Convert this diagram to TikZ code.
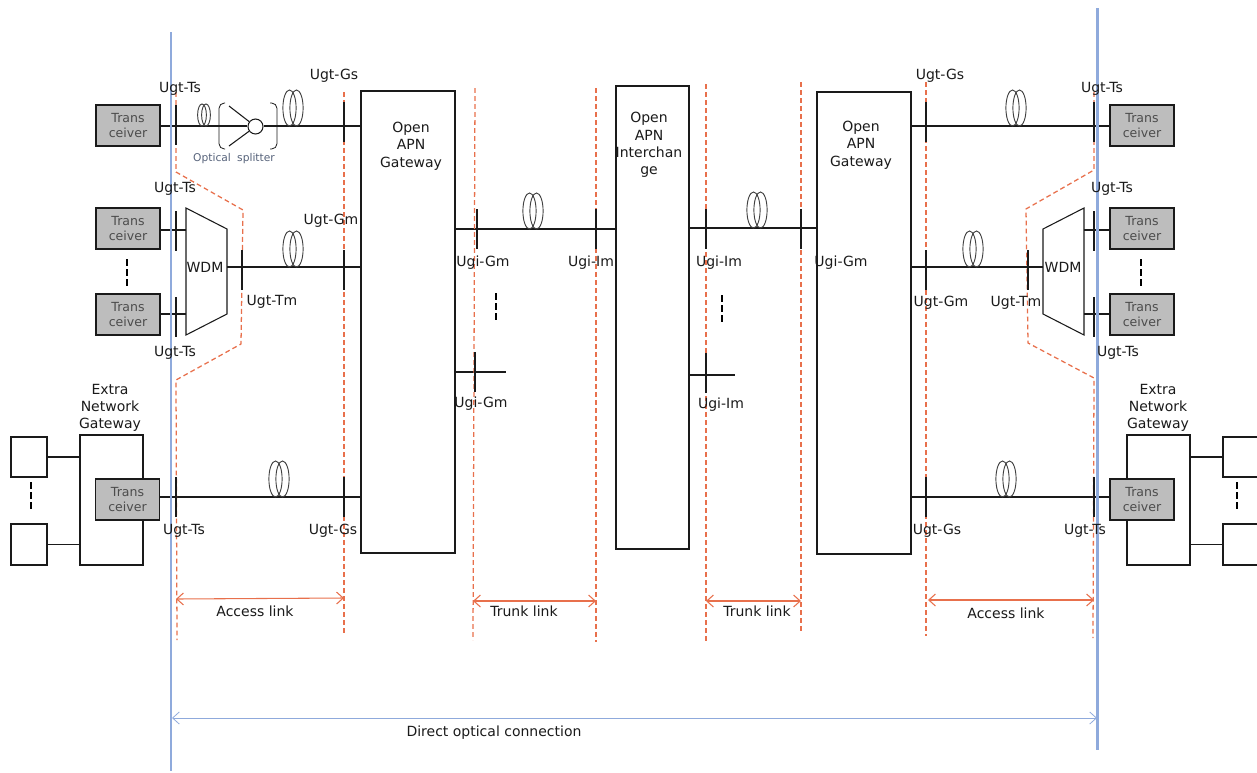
\documentclass[tikz,border=0pt]{standalone}
\usepackage{fontspec}
\usepackage{xcolor}
\usepackage{tikz}
\usetikzlibrary{arrows.meta}
\setmainfont{DejaVu Sans}
\definecolor{blackmain}{HTML}{1A1A1A}
\definecolor{bluelink}{HTML}{8FAADC}
\definecolor{orangelink}{HTML}{E8704C}
\definecolor{grayfill}{HTML}{BDBDBD}
\definecolor{graytext}{HTML}{56627A}
\tikzset{wire/.style={blackmain,line width=.8pt},
tickmark/.style={blackmain,line width=.8pt},
box/.style={draw=blackmain,line width=.8pt,inner sep=0pt},
trx/.style={box,fill=grayfill,minimum width=48pt,minimum height=30.75pt,text=black!70,align=center,font=\fontsize{9.4}{10.6}\selectfont},
tag/.style={inner sep=0pt,yshift=-.75pt,text=blackmain,font=\fontsize{10.5}{13}\selectfont,align=center},
reach/.style={orangelink,dash pattern=on 3.6pt off 2.4pt,line width=.95pt},
span/.style={{Straight Barb[length=5pt,width=9pt]}-{Straight Barb[length=5pt,width=9pt]},orangelink,line width=.8pt},
rail/.style={bluelink,line width=1.9pt},
dots/.style={black,line width=1.6pt,dash pattern=on 5pt off 2.6pt},
coil/.pic={\draw[black!75,line width=.7pt] (-3.5,-18) ellipse (6.6 and 18) (3.5,-18) ellipse (6.6 and 18);},
smallcoil/.pic={\draw[black!75,line width=.7pt] (-2,-11) ellipse (4.4 and 11) (2,-11) ellipse (4.4 and 11);}}

\begin{document}
\begin{tikzpicture}[x=.75pt,y=-.75pt]
\useasboundingbox (0,0) rectangle (1257,772);
\clip (0,0) rectangle (1257,772);
% main boxes
\node[box,minimum width=70.5pt,minimum height=346.5pt] (gwl) at (408,322) {};
\node[box,minimum width=54.75pt,minimum height=347.25pt] (ix) at (652.5,317.5) {};
\node[box,minimum width=70.5pt,minimum height=346.5pt] (gwr) at (864,323) {};
\node[box,minimum width=47.25pt,minimum height=97.5pt] (enl) at (111.5,500) {};
\node[box,minimum width=47.25pt,minimum height=97.5pt] (enr) at (1158.5,500) {};
\node[box,minimum width=27pt,minimum height=30pt] (hl1) at (29,457) {};
\node[box,minimum width=27pt,minimum height=30.75pt] (hl2) at (29,544.5) {};
\node[box,minimum width=45pt,minimum height=30pt] (hr1) at (1253,457) {};
\node[box,minimum width=45pt,minimum height=30.75pt] (hr2) at (1253,544.5) {};
\foreach \tname/\tx/\ty in {tl1/128/125.5,tl2/128/228.5,tl3/128/314.5,tl4/127.5/499.5,tr1/1142/125.5,tr2/1142/228.5,tr3/1142/314.5,tr4/1142/499.5}
\node[trx] (\tname) at (\tx,\ty) {Trans\\ceiver};
\draw[box,fill=white] (186,208)--(227,229)--(227,314)--(186,335)--cycle;
\draw[box,fill=white] (1043,229)--(1084,208)--(1084,335)--(1043,314)--cycle;
\coordinate (wl) at (227,267);
\coordinate (wr) at (1043,267);
\coordinate (wl1) at (186,230);
\coordinate (wl2) at (186,314);
\coordinate (wr1) at (1084,230);
\coordinate (wr2) at (1084,314);
% splitter
\node[draw=blackmain,line width=.8pt,fill=white,circle,minimum size=11.25pt,inner sep=0pt] (spl) at (255.5,126.5) {};
\draw[wire] (tl1.east |- 0,126)--(spl.west |- 0,126);
\draw[wire] (spl.east |- 0,126)--(gwl.west |- 0,126);
\draw[wire] (229,106)--(spl);
\draw[wire] (229,146)--(spl);
\draw[blackmain,line width=.6pt,rounded corners=4pt] (225,103)--(219,103)--(219,149)--(225,149);
\draw[blackmain,line width=.6pt,rounded corners=4pt] (270,103)--(277,103)--(277,149)--(270,149);
% wires
\draw[wire] (wl)--(gwl.west |- wl);
\draw[wire] (wr)--(gwr.east |- wr);
\draw[wire] (tl2.east |- wl1)--(wl1);
\draw[wire] (tl3.east |- wl2)--(wl2);
\draw[wire] (tr2.west |- wr1)--(wr1);
\draw[wire] (tr3.west |- wr2)--(wr2);
\draw[wire] (tl4.east |- 0,497)--(gwl.west |- 0,497);
\draw[wire] (tr4.west |- 0,497)--(gwr.east |- 0,497);
\draw[wire] (tr1.west |- 0,126)--(gwr.east |- 0,126);
\draw[wire] (gwl.east |- 0,229)--(ix.west |- 0,229);
\draw[wire] (gwr.west |- 0,228)--(ix.east |- 0,228);
\coordinate (stl) at (506,372);
\coordinate (str) at (735,375);
\draw[wire] (gwl.east |- stl)--(stl);
\draw[wire] (ix.east |- str)--(str);
\draw[wire] (hl1.east)--(enl.west |- hl1.east);
\draw[wire] (hl2.east)--(enl.west |- hl2.east);
\draw[wire] (hr1.west)--(enr.east |- hr1.west);
\draw[wire] (hr2.west)--(enr.east |- hr2.west);
% link limits
\draw[reach] (176,92)--(176,172)--(243,210)--(241,344)--(176,380)--(177,640);
\draw[reach] (344,92)--(344,634);
\draw[reach] (475,88)--(473,640);
\draw[reach] (596,88)--(596,642);
\draw[reach] (706,84)--(706,642);
\draw[reach] (801,82)--(801,632);
\draw[reach] (926,82)--(926,636);
\draw[reach] (1094,92)--(1094,170)--(1026,209)--(1028,343)--(1094,378)--(1093,638);
\draw[rail] (171,32)--(171,771);
\draw[rail] (1097.5,8)--(1097.5,750);
% ticks
\foreach \x/\y in {176/125,344/122,926/122,1094/122,176/231,176/317,242/270,344/270,926/270,1028/270,1094/231,1094/317,176/497,344/497,926/497,1094/497,477/229,596/229,706/229,801/229,475/372,706/373}
\draw[tickmark] (\x,\y-20)--(\x,\y+20);
% fibre coils
\foreach \x/\y in {293/126,293/267,279/497,533/229,757/228,1016/126,973/267,1006/497}
\pic at (\x,\y) {coil};
\pic at (204,126) {smallcoil};
% dots
\foreach \x/\y in {127/259,31/482,496/293,722/295,1141/259,1237/482}
\draw[dots] (\x,\y)--(\x,\y+29);
% spans
\coordinate (al1) at (176,599);
\coordinate (al2) at (344,598);
\coordinate (tk1) at (473,601);
\coordinate (tk2) at (596,601);
\coordinate (tk3) at (706,601);
\coordinate (tk4) at (801,601);
\coordinate (ar1) at (928,600);
\coordinate (ar2) at (1094,600);
\coordinate (dc1) at (172,718);
\coordinate (dc2) at (1097,718);
\draw[span] (al1)--(al2);
\draw[span] (tk1)--(tk2);
\draw[span] (tk3)--(tk4);
\draw[span] (ar1)--(ar2);
\draw[span,bluelink,line width=.6pt] (dc1)--(dc2);
% labels
\foreach \lname/\lx/\ly/\ltxt in {a1/180/88/Ugt-Ts,a2/334/75/Ugt-Gs,a3/175/188/Ugt-Ts,a4/331/220/Ugt-Gm,a5/272/301/Ugt-Tm,a6/175/352/Ugt-Ts,a7/184/530/Ugt-Ts,a8/333/530/Ugt-Gs,
b1/483/262/Ugi-Gm,b2/591/262/Ugi-Im,b3/719/262/Ugi-Im,b4/841/262/Ugi-Gm,b5/481/403/Ugi-Gm,b6/721/404/Ugi-Im,
c1/940/75/Ugt-Gs,c2/1102/88/Ugt-Ts,c3/1112/188/Ugt-Ts,c4/941/302/Ugt-Gm,c5/1016/302/Ugt-Tm,c6/1118/352/Ugt-Ts,c7/937/530/Ugt-Gs,c8/1085/530/Ugt-Ts,
wd1/205/266/WDM,wd2/1063/266/WDM,k1/255/610/Access link,k2/524/610/Trunk link,k3/757/610/Trunk link,k4/1006/612/Access link,k5/494/732/Direct optical connection,
g1/411/145/{Open\\APN\\Gateway},g2/861/144/{Open\\APN\\Gateway},g3/649/144/{Open\\APN\\Interchan\\ge},e1/110/407/{Extra\\Network\\Gateway},e2/1158/407/{Extra\\Network\\Gateway}}
\node[tag] (\lname) at (\lx,\ly) {\ltxt};
\node[tag,text=graytext,font=\fontsize{8}{9}\selectfont] (splt) at (234,158) {Optical\; splitter};
\end{tikzpicture}
\end{document}
